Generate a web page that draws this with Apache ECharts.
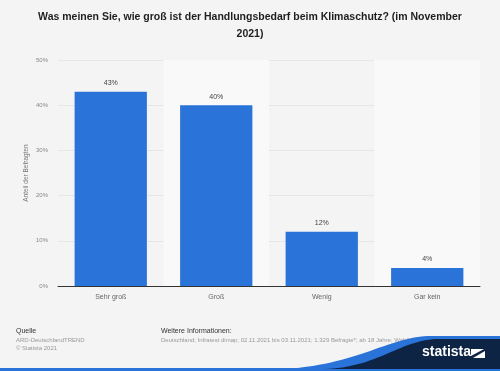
<!DOCTYPE html>
<html><head><meta charset="utf-8">
<script src="https://cdn.jsdelivr.net/npm/echarts@6/dist/echarts.min.js"></script>
<style>html,body{margin:0;padding:0;background:#f4f4f4}#c{width:500px;height:371px}</style>
</head><body><div id="c"></div>
<script>
const categories = ['Sehr groß', 'Groß', 'Wenig', 'Gar kein'];
const values = [43, 40, 12, 4];
const yTicks = [0, 10, 20, 30, 40, 50];
const titleText = 'Was meinen Sie, wie groß ist der Handlungsbedarf beim Klimaschutz? (im November\n2021)';
const yAxisName = 'Anteil der Befragten';

function bez(p0, p1, p2, p3, n) {
  const pts = [];
  for (let i = 0; i <= n; i++) {
    const t = i / n, u = 1 - t;
    pts.push([
      u*u*u*p0[0] + 3*u*u*t*p1[0] + 3*u*t*t*p2[0] + t*t*t*p3[0],
      u*u*u*p0[1] + 3*u*u*t*p1[1] + 3*u*t*t*p2[1] + t*t*t*p3[1]
    ]);
  }
  return pts;
}
const blueBand = bez([285, 369], [360, 364], [390, 336], [432, 336], 30)
  .concat([[500, 336], [500, 340]])
  .concat(bez([440, 340], [400, 340], [380, 367], [330, 369], 30));
const darkShape = bez([325, 369], [380, 367], [400, 339], [440, 339], 30)
  .concat([[500, 339], [500, 369]]);

const chart = echarts.init(document.getElementById('c'), null, {renderer: 'canvas'});
const F = 'Liberation Sans, Arial, sans-serif';
chart.setOption({
  backgroundColor: '#f4f4f4',
  animation: false,
  title: {
    text: titleText, left: 'center', top: 4,
    textStyle: {fontFamily: F, fontSize: 10.5, fontWeight: 'bold', color: '#1e1e1e', lineHeight: 17, align: 'center'}
  },
  grid: {left: 58, right: 20, top: 60, bottom: 85, containLabel: false},
  xAxis: {
    type: 'category', data: categories,
    axisLine: {lineStyle: {color: '#333', width: 1}},
    axisTick: {show: false},
    axisLabel: {fontFamily: F, fontSize: 7, color: '#666', margin: 8},
    splitArea: {show: true, areaStyle: {color: ['rgba(0,0,0,0)', '#f9f9f9']}}
  },
  yAxis: {
    type: 'value', min: 0, max: 50, interval: 10,
    name: yAxisName, nameLocation: 'middle', nameGap: 28, nameRotate: 90, nameMoveOverlap: false,
    nameTextStyle: {fontFamily: F, fontSize: 6.5, color: '#777'},
    axisLine: {show: false}, axisTick: {show: false},
    axisLabel: {fontFamily: F, fontSize: 6, color: '#888', margin: 10, formatter: v => yTicks.includes(v) ? v + '%' : ''},
    splitLine: {lineStyle: {color: '#e6e6e6', width: 1}}
  },
  series: [{
    type: 'bar', data: values, barWidth: '68.5%',
    itemStyle: {color: '#2a73d9'},
    label: {show: true, position: 'top', distance: 5, fontFamily: F, fontSize: 7, color: '#444', formatter: p => p.value + '%'}
  }],
  graphic: [
    {type: 'text', x: 16, y: 328, style: {text: 'Quelle', font: '7px ' + F, fill: '#333'}},
    {type: 'text', x: 16, y: 337, style: {text: 'ARD-DeutschlandTREND', font: '6px ' + F, fill: '#999'}},
    {type: 'text', x: 16, y: 345, style: {text: '© Statista 2021', font: '6px ' + F, fill: '#999'}},
    {type: 'text', x: 161, y: 328, style: {text: 'Weitere Informationen:', font: '7px ' + F, fill: '#333'}},
    {type: 'text', x: 161, y: 337, style: {text: 'Deutschland; Infratest dimap; 02.11.2021 bis 03.11.2021; 1.329 Befragte*; ab 18 Jahre; Wahlberechtigte', font: '6px ' + F, fill: '#999'}},
    {type: 'rect', shape: {x: 0, y: 368, width: 500, height: 3}, style: {fill: '#2a73d9'}},
    {type: 'polygon', shape: {points: blueBand}, style: {fill: '#2a73d9'}},
    {type: 'polygon', shape: {points: darkShape}, style: {fill: '#0e2444'}},
    {type: 'text', x: 422, y: 345, style: {text: 'statista', font: 'bold 14px ' + F, fill: '#ffffff'}},
    {type: 'rect', shape: {x: 471, y: 349, width: 14, height: 9}, style: {fill: '#ffffff'}},
    {type: 'polygon', shape: {points: [[471, 356], [484, 349], [485, 349], [485, 351], [473, 358], [471, 358]]}, style: {fill: '#0e2444'}}
  ]
});
</script></body></html>
